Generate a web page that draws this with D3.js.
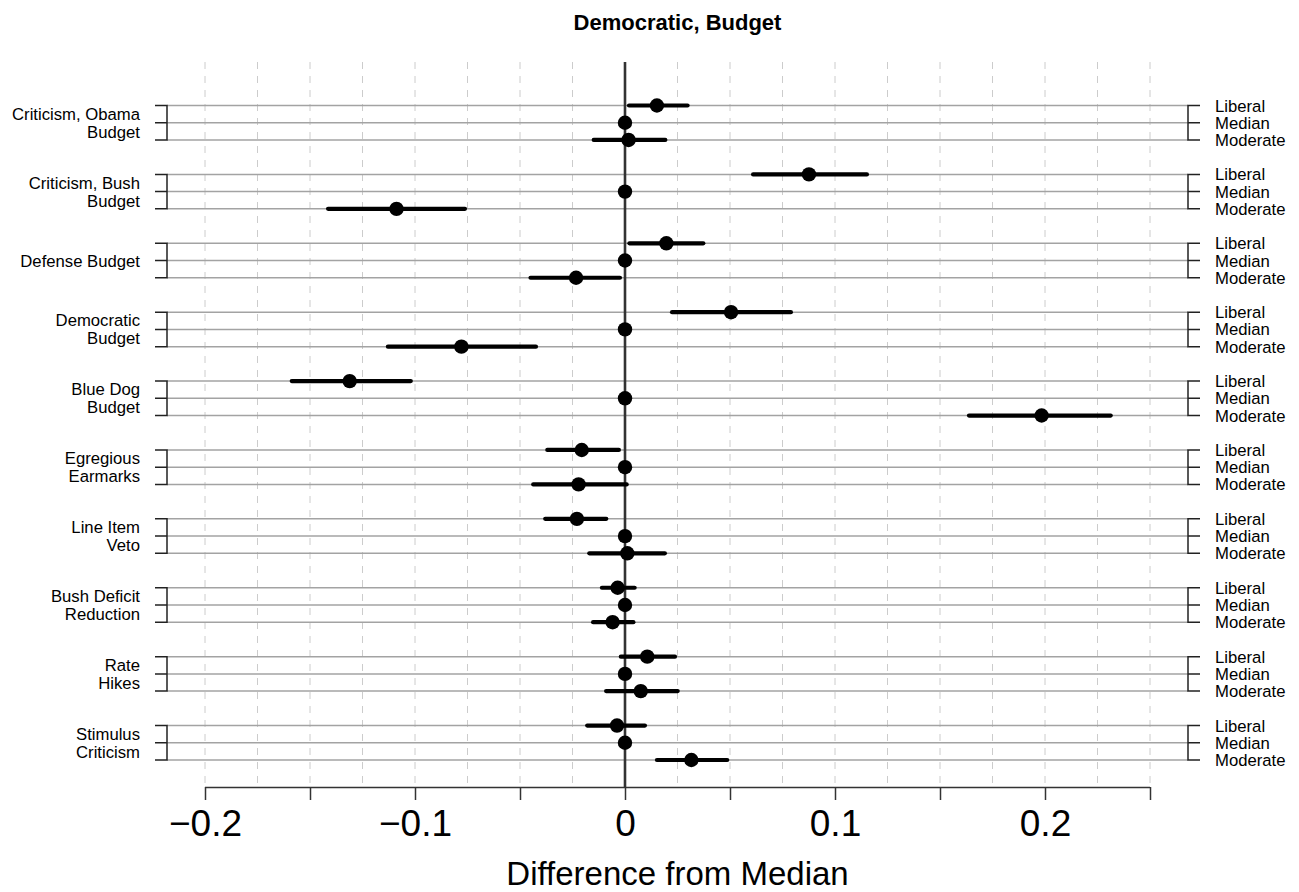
<!DOCTYPE html>
<html>
<head>
<meta charset="utf-8">
<script src="https://cdn.jsdelivr.net/npm/d3@7"></script>
<style>
  html, body { margin: 0; padding: 0; background: #fff; }
  svg { display: block; font-family: "Liberation Sans", Arial, Helvetica, sans-serif; }
</style>
</head>
<body>
<svg id="chart" width="1299" height="892"></svg>
<script>
// Topics (each one a group of three rows: Liberal, Median, Moderate)
const topics = [
  ["Criticism, Obama", "Budget"],
  ["Criticism, Bush", "Budget"],
  ["Defense Budget"],
  ["Democratic", "Budget"],
  ["Blue Dog", "Budget"],
  ["Egregious", "Earmarks"],
  ["Line Item", "Veto"],
  ["Bush Deficit", "Reduction"],
  ["Rate", "Hikes"],
  ["Stimulus", "Criticism"]
];
const rowLabels = ["Liberal", "Median", "Moderate"];

// Liberal vs. median: estimate and interval
const liberalEst = [0.0152, 0.0876, 0.0197, 0.0505, -0.1311, -0.0206, -0.0229, -0.0035, 0.0106, -0.0038];
const liberalLo  = [0.0019, 0.0610, 0.0021, 0.0224, -0.1587, -0.0370, -0.0380, -0.0110, -0.0020, -0.0180];
const liberalHi  = [0.0298, 0.1152, 0.0373, 0.0790, -0.1020, -0.0029, -0.0089, 0.0046, 0.0238, 0.0095];

// Moderate vs. median: estimate and interval
const moderateEst = [0.0017, -0.1088, -0.0233, -0.0779, 0.1984, -0.0221, 0.0011, -0.0059, 0.0075, 0.0316];
const moderateLo  = [-0.0149, -0.1414, -0.0450, -0.1129, 0.1638, -0.0437, -0.0170, -0.0152, -0.0090, 0.0152];
const moderateHi  = [0.0192, -0.0762, -0.0024, -0.0424, 0.2313, 0.0008, 0.0190, 0.0040, 0.0251, 0.0487];

// Median is the reference point
const medianEst = topics.map(() => 0);

// Axis ticks
const tickValues = [-0.2, -0.15, -0.1, -0.05, 0, 0.05, 0.1, 0.15, 0.2, 0.25];
const tickLabels = ["\u22120.2", "", "\u22120.1", "", "0", "", "0.1", "", "0.2", ""];
const gridValues = d3.range(-0.2, 0.2501, 0.025);

const svg = d3.select("#chart");

const x = d3.scaleLinear().domain([-0.2, 0.2]).range([205, 1045]);
// slot index: 4 slots per topic, last one empty
const y = d3.scaleLinear().domain([0, 38]).range([105.5, 760]);

const lineLeft = 167, lineRight = 1188;
const plotTop = 62, axisY = 787;

// rows as records
const rows = [];
topics.forEach((t, g) => {
  rows.push({ g, k: 0, est: liberalEst[g], lo: liberalLo[g], hi: liberalHi[g] });
  rows.push({ g, k: 1, est: medianEst[g], lo: null, hi: null });
  rows.push({ g, k: 2, est: moderateEst[g], lo: moderateLo[g], hi: moderateHi[g] });
});
const rowY = d => y(d.g * 4 + d.k);

// dashed vertical grid
svg.append("g").selectAll("line").data(gridValues).join("line")
  .attr("x1", d => x(d)).attr("x2", d => x(d))
  .attr("y1", plotTop).attr("y2", axisY)
  .attr("stroke", "#cccccc").attr("stroke-width", 1)
  .attr("stroke-dasharray", "7,7");

// horizontal row lines
svg.append("g").selectAll("line").data(rows).join("line")
  .attr("x1", lineLeft).attr("x2", lineRight)
  .attr("y1", rowY).attr("y2", rowY)
  .attr("stroke", "#a3a3a3").attr("stroke-width", 1.5);

// brackets on both sides
const bracket = svg.append("g").attr("stroke", "#222").attr("stroke-width", 1.5).attr("fill", "none");
topics.forEach((t, g) => {
  const y0 = y(g * 4), y2 = y(g * 4 + 2);
  bracket.append("path")
    .attr("d", `M155,${y0}H${lineLeft}V${y2}H155M${lineLeft},${y(g * 4 + 1)}H155`);
  bracket.append("path")
    .attr("d", `M1200,${y0}H${lineRight}V${y2}H1200M${lineRight},${y(g * 4 + 1)}H1200`);
});

// zero reference line
svg.append("line")
  .attr("x1", x(0)).attr("x2", x(0)).attr("y1", plotTop).attr("y2", axisY)
  .attr("stroke", "#333").attr("stroke-width", 2.6);

// intervals
svg.append("g").selectAll("line").data(rows.filter(d => d.lo !== null)).join("line")
  .attr("x1", d => x(d.lo)).attr("x2", d => x(d.hi))
  .attr("y1", rowY).attr("y2", rowY)
  .attr("stroke", "#000").attr("stroke-width", 4.2).attr("stroke-linecap", "round");

// point estimates
svg.append("g").selectAll("circle").data(rows).join("circle")
  .attr("cx", d => x(d.est)).attr("cy", rowY).attr("r", 7.2)
  .attr("fill", "#000");

// left topic labels
const left = svg.append("g").attr("font-size", 16.7).attr("text-anchor", "end").attr("fill", "#000");
topics.forEach((t, g) => {
  const cy = y(g * 4 + 1);
  t.forEach((line, i) => {
    left.append("text")
      .attr("x", 140)
      .attr("y", cy + (i - (t.length - 1) / 2) * 18)
      .attr("dy", "0.36em")
      .text(line);
  });
});

// right row labels
svg.append("g").attr("font-size", 16.7).attr("fill", "#000")
  .selectAll("text").data(rows).join("text")
  .attr("x", 1215).attr("y", rowY).attr("dy", "0.36em")
  .text(d => rowLabels[d.k]);

// bottom axis
const axis = d3.axisBottom(x).tickValues(tickValues)
  .tickFormat((d, i) => tickLabels[i]).tickSize(13).tickPadding(10);
const ax = svg.append("g").attr("transform", `translate(0,${axisY})`).call(axis);
ax.select(".domain").attr("d", `M${x(-0.2)},0.5H${x(0.25)}`).attr("stroke", "#333").attr("stroke-width", 1.5);
ax.selectAll(".tick line").attr("stroke", "#333").attr("stroke-width", 1.5);
ax.selectAll(".tick text").attr("font-size", 37).attr("font-family", "Liberation Sans, Arial, sans-serif").attr("fill", "#000");

// axis title
svg.append("text")
  .attr("x", 677.5).attr("y", 885).attr("text-anchor", "middle")
  .attr("font-size", 33).attr("fill", "#000")
  .text("Difference from Median");

// chart title
svg.append("text")
  .attr("x", 677.5).attr("y", 30).attr("text-anchor", "middle")
  .attr("font-size", 22).attr("font-weight", "bold").attr("fill", "#000")
  .text("Democratic, Budget");
</script>
</body>
</html>
